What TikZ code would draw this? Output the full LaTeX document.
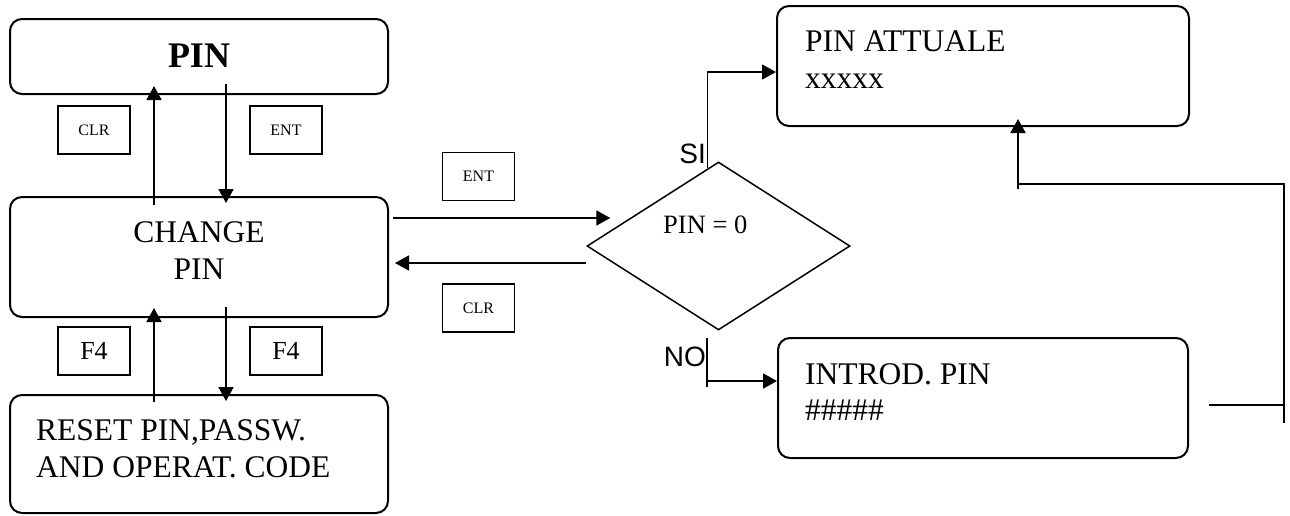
\documentclass[tikz,border=0pt]{standalone}
\usepackage{fontspec}
\setmainfont{Liberation Serif}
\newfontfamily\labelsans{Liberation Sans}
\usetikzlibrary{shapes.geometric,arrows.meta,calc}
\begin{document}
\begin{tikzpicture}[x=1pt,y=-1pt,
  panel/.style={draw,line width=2pt,rounded corners=12pt,minimum width=378pt,inner sep=0pt},
  keybox/.style={draw,line width=1.8pt,minimum width=72pt,minimum height=48pt,inner sep=0pt},
  txt/.style={inner sep=0pt,font=\fontsize{31.5}{37}\selectfont},
  keytxt/.style={font=\fontsize{16}{18}\selectfont},
  fkey/.style={font=\fontsize{26}{28}\selectfont},
  link/.style={line width=1.8pt},
  arr/.style={link,-{Triangle[length=14pt,width=15pt]}},
  branch/.style={inner sep=0pt,font=\labelsans\fontsize{28}{30}\selectfont}]
\useasboundingbox (0,0) rectangle (1290,515);

% left column of menu panels
\node[panel,minimum height=75pt] (pin) at (199,56.5) {};
\node[inner sep=0pt,font=\bfseries\fontsize{36}{40}\selectfont,anchor=base] (pinlbl) at (199,67) {PIN};

\node[panel,minimum height=120pt] (chg) at (199,257) {};
\node[txt,anchor=base] (chgA) at (199,242) {CHANGE};
\node[txt,anchor=base] (chgB) at (199,279) {PIN};

\node[panel,minimum height=118pt] (reset) at (199,454) {};
\node[txt,anchor=base west] (resetA) at (36,440) {RESET PIN,PASSW.};
\node[txt,anchor=base west] (resetB) at (36,477) {AND OPERAT. CODE};

% keys between the panels
\node[keybox,keytxt] (clrA) at (94,130) {CLR};
\node[keybox,keytxt] (entA) at (286,130) {ENT};
\node[keybox,fkey] (f4A) at (94,351) {F4};
\node[keybox,fkey] (f4B) at (286,351) {F4};
\node[keybox,keytxt] (entB) at (478.5,176.5) {ENT};
\node[keybox,keytxt] (clrB) at (478.5,308) {CLR};

% decision
\node[draw,diamond,line width=1.5pt,minimum width=263pt,minimum height=168pt,inner sep=0pt] (dec) at (718.5,246) {};
\node[inner sep=0pt,font=\fontsize{26.5}{30}\selectfont,anchor=base west] (cond) at (663,233) {PIN = 0};
\node[branch,anchor=base east] (si) at (706,163) {SI};
\node[branch,anchor=base east] (no) at (706,366) {NO};

% right panels
\node[panel,minimum width=412pt,minimum height=120pt] (cur) at (983,66) {};
\node[txt,anchor=base west] (curA) at (805,51) {PIN ATTUALE};
\node[txt,anchor=base west] (curB) at (805,88) {xxxxx};

\node[panel,minimum width=410pt,minimum height=120pt] (intro) at (983,398) {};
\node[txt,anchor=base west] (introA) at (805,384) {INTROD. PIN};
\node[txt,anchor=base west] (introB) at (805,420) {\#\#\#\#\#};

% helper rows and columns for the connectors
\coordinate (colL) at (154,0);
\coordinate (colR) at (226,0);
\coordinate (rowEnt) at (0,218);
\coordinate (rowClr) at (0,263);
\coordinate (rowNo) at (0,381);
\coordinate (rowRet) at (0,405);
\coordinate (loopX) at (1284,0);
\coordinate (loopY) at (0,184);
\coordinate (upX) at (1018,0);
\coordinate (siFoot) at ($(dec.north)!0.084!(dec.west)$);
\coordinate (noTop) at (707,338);

% vertical moves in the left column
\draw[arr,shorten <=-9pt,shorten >=-9pt] (colL |- chg.north) -- (colL |- pin.south);
\draw[arr,shorten <=-11pt,shorten >=-7pt] (colR |- pin.south) -- (colR |- chg.north);
\draw[arr,shorten <=-8pt,shorten >=-10pt] (colL |- reset.north) -- (colL |- chg.south);
\draw[arr,shorten <=-11pt,shorten >=-7pt] (colR |- chg.south) -- (colR |- reset.north);

% to and from the decision
\draw[arr,shorten <=4pt,shorten >=-24pt] (chg.east |- rowEnt) -- (dec.west |- rowEnt);
\draw[arr,shorten >=6pt] (dec.west |- rowClr) -- (chg.east |- rowClr);

% branches
\draw[arr] (siFoot) |- ([yshift=-6pt]cur.west);
\draw[link] (noTop) -- ++(0,49);
\draw[arr] (noTop |- rowNo) -- (intro.west |- rowNo);

% return path from the PIN entry panel
\draw[link] ([xshift=20pt]intro.east |- rowRet) -- (loopX |- rowRet);
\draw[link] ([yshift=-18pt]loopX |- rowRet) -- (loopX |- loopY) -- (upX |- loopY);
\draw[arr,shorten >=-8pt] ([yshift=-5pt]upX |- loopY) -- (upX |- cur.south);
\end{tikzpicture}
\end{document}
